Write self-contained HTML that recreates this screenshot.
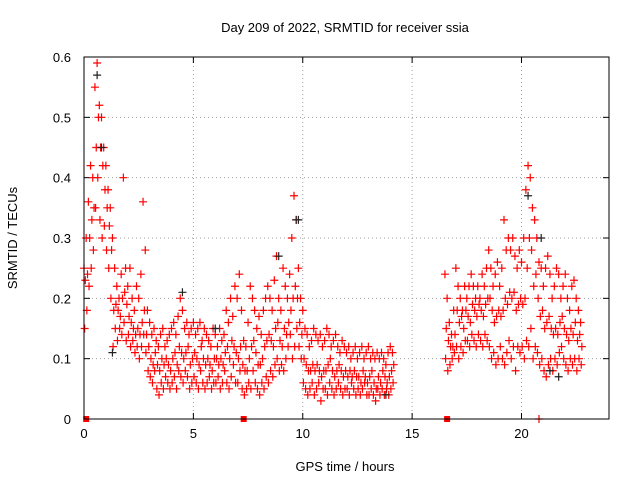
<!DOCTYPE html>
<html><head><meta charset="utf-8"><style>
body{margin:0;background:#fff;}
svg text{font-family:"Liberation Sans",sans-serif;font-size:13px;fill:#000;}
</style></head><body>
<svg id="chart" width="640" height="480">
<text x="345" y="32" text-anchor="middle">Day 209 of 2022, SRMTID for receiver ssia</text>
<text x="345" y="471" text-anchor="middle">GPS time / hours</text>
<text transform="translate(17,238) rotate(-90)" text-anchor="middle">SRMTID / TECUs</text>
<g id="grid"></g>
<g id="ticks"></g>
<g id="marks"></g>
<rect x="84" y="57" width="525" height="362" fill="none" stroke="#000" stroke-width="1"/>
</svg>
<script>
const xTicks=[0,5,10,15,20];
const yTicks=[0,0.1,0.2,0.3,0.4,0.5,0.6];
const yTickLabels=["0","0.1","0.2","0.3","0.4","0.5","0.6"];
const segAStart=0.0, segBStart=16.5, step=0.1;
const segAHi=[.25,.30,.36,.42,.40,.55,.59,.52,.50,.45,.42,.38,.35,.30,.25,.22,.20,.24,.40,.25,.22,.25,.20,.18,.22,.20,.24,.36,.28,.18,.16,.14,.15,.13,.12,.14,.15,.12,.13,.14,.15,.16,.14,.17,.20,.18,.15,.16,.14,.15,.16,.14,.15,.16,.13,.15,.14,.13,.12,.15,.14,.12,.15,.13,.14,.18,.16,.20,.17,.22,.20,.24,.18,.13,.12,.16,.22,.20,.18,.15,.17,.14,.18,.20,.22,.20,.18,.23,.27,.20,.18,.25,.22,.20,.24,.30,.37,.33,.25,.20,.18,.15,.14,.12,.13,.15,.14,.13,.14,.12,.13,.15,.14,.12,.13,.14,.12,.11,.13,.12,.11,.12,.10,.11,.12,.10,.11,.12,.10,.11,.12,.10,.11,.10,.11,.10,.11,.10,.09,.11,.12,.11];
const segALo=[.15,.18,.22,.25,.28,.35,.40,.33,.30,.32,.28,.25,.20,.12,.15,.13,.15,.14,.16,.13,.14,.12,.13,.11,.12,.10,.12,.14,.11,.08,.07,.06,.08,.05,.04,.06,.05,.07,.06,.05,.06,.07,.05,.08,.07,.06,.08,.07,.05,.06,.07,.06,.05,.08,.06,.05,.06,.07,.05,.06,.06,.07,.05,.06,.08,.06,.05,.07,.09,.06,.06,.08,.05,.04,.05,.06,.05,.08,.06,.05,.04,.06,.05,.07,.06,.08,.07,.09,.10,.08,.09,.08,.10,.12,.14,.10,.12,.15,.12,.10,.06,.05,.04,.05,.06,.04,.05,.06,.03,.05,.05,.04,.06,.05,.04,.05,.06,.05,.04,.05,.05,.04,.06,.05,.04,.05,.04,.05,.06,.04,.04,.05,.04,.03,.05,.04,.05,.04,.05,.04,.05,.06];
const segAMid=[.23,.24,.30,.33,.35,.45,.50,.45,.42,.38,.35,.32,.28,.18,.19,.18,.17,.20,.21,.19,.17,.16,.15,.14,.15,.14,.16,.18,.14,.12,.10,.09,.11,.09,.08,.10,.09,.10,.09,.08,.10,.11,.09,.12,.11,.10,.11,.12,.09,.10,.11,.10,.09,.12,.10,.09,.10,.09,.08,.10,.10,.09,.10,.09,.11,.12,.10,.13,.12,.11,.10,.12,.09,.08,.08,.10,.12,.13,.11,.09,.09,.10,.12,.13,.14,.13,.12,.15,.16,.13,.12,.15,.14,.16,.18,.20,.22,.20,.16,.14,.10,.09,.08,.08,.09,.08,.09,.08,.07,.08,.08,.09,.10,.08,.07,.08,.09,.08,.07,.08,.07,.08,.07,.08,.07,.07,.06,.08,.07,.06,.07,.08,.06,.05,.07,.06,.08,.07,.06,.07,.08,.09];
const segBHi=[.24,.20,.16,.14,.18,.25,.22,.20,.18,.22,.20,.22,.24,.22,.20,.22,.20,.24,.22,.25,.28,.25,.22,.24,.26,.22,.25,.33,.28,.30,.28,.30,.27,.25,.28,.26,.30,.38,.42,.40,.35,.33,.30,.26,.25,.22,.25,.27,.24,.20,.22,.25,.24,.20,.22,.24,.20,.18,.22,.23,.20,.18,.16];
const segBLo=[.10,.08,.09,.10,.11,.12,.10,.12,.11,.13,.13,.12,.14,.13,.12,.14,.13,.12,.14,.13,.12,.10,.11,.09,.10,.12,.10,.09,.11,.13,.10,.12,.08,.12,.11,.12,.10,.13,.12,.15,.10,.12,.11,.09,.10,.08,.07,.09,.10,.08,.10,.09,.11,.12,.10,.09,.08,.10,.09,.10,.08,.10,.09];
const segBMid=[.15,.13,.12,.12,.14,.18,.16,.17,.15,.18,.17,.16,.19,.18,.17,.19,.18,.17,.19,.20,.20,.18,.16,.17,.18,.17,.18,.20,.19,.21,.20,.21,.18,.19,.20,.19,.20,.25,.30,.28,.22,.24,.20,.17,.18,.15,.16,.17,.15,.14,.15,.14,.16,.17,.15,.14,.13,.15,.14,.16,.13,.14,.12];
const blackTimes=[0.6,0.8,1.3,4.5,6.0,8.9,9.7,9.8,13.8,20.3,20.9,21.3,21.7];
const blackVals=[0.57,0.45,0.11,0.21,0.15,0.27,0.33,0.33,0.04,0.37,0.30,0.08,0.07];
const zeroTimes=[0.1,7.3,16.6];
const zeroPlusTimes=[20.8];

const NS="http://www.w3.org/2000/svg";
const X0=84,X1=609,Y0=419,Y1=57;
function xs(t){return X0+t/24*(X1-X0);}
function ys(v){return Y0-v/0.6*(Y0-Y1);}
function el(tag,attrs,parent){const e=document.createElementNS(NS,tag);for(const k in attrs)e.setAttribute(k,attrs[k]);parent.appendChild(e);return e;}
const grid=document.getElementById('grid'),ticks=document.getElementById('ticks'),marks=document.getElementById('marks');
xTicks.forEach(t=>{const x=xs(t);
 if(t>0){const g=el('line',{x1:x,x2:x,y1:Y0,y2:Y1,stroke:'#a0a0a0','stroke-dasharray':'1,3'},grid);
 
 }
 el('line',{x1:x,x2:x,y1:Y0,y2:Y0-6,stroke:'#000'},ticks);
 el('line',{x1:x,x2:x,y1:Y1,y2:Y1+6,stroke:'#000'},ticks);
 const tx=el('text',{x:x,y:Y0+19,'text-anchor':'middle'},ticks);tx.textContent=t;
 
 
});
yTicks.forEach((v,i)=>{const y=ys(v);
 if(i>0&&i<yTicks.length-1){const g=el('line',{x1:X0,x2:X1,y1:y,y2:y,stroke:'#a0a0a0','stroke-dasharray':'1,3'},grid);
 
 }
 el('line',{x1:X0,x2:X0+6,y1:y,y2:y,stroke:'#000'},ticks);
 el('line',{x1:X1,x2:X1-6,y1:y,y2:y,stroke:'#000'},ticks);
 const tx=el('text',{x:X0-13,y:y+5,'text-anchor':'end'},ticks);tx.textContent=yTickLabels[i];
 
 
});
function plus(t,v,color){const x=xs(t),y=ys(v);
 const p=el('path',{d:`M${x-4},${y}h8M${x},${y-4}v8`,stroke:color,'stroke-width':1.2,fill:'none'},marks);
 
 }
function seg(start,arr,off){arr.forEach((v,i)=>plus(start+i*step+off,v,'#ff0000'));}
seg(segAStart,segAHi,0);seg(segAStart,segALo,0.03);seg(segAStart,segAMid,0.06);
seg(segBStart,segBHi,0);seg(segBStart,segBLo,0.03);seg(segBStart,segBMid,0.06);
blackTimes.forEach((t,i)=>plus(t,blackVals[i],'#222'));
zeroTimes.forEach(t=>{const r=el('rect',{x:xs(t)-3,y:ys(0)-3,width:6,height:6,fill:'#ff0000'},marks);
 
 });
zeroPlusTimes.forEach(t=>plus(t,0,'#ff0000'));
</script>
</body></html>
